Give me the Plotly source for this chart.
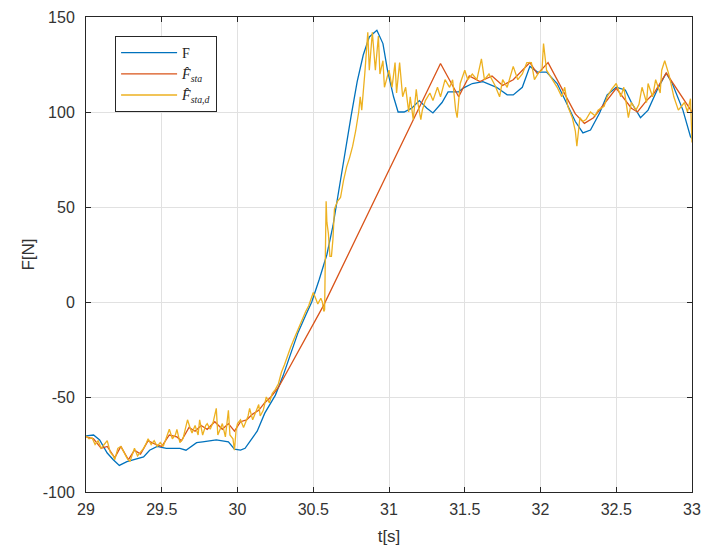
import plotly.graph_objects as go

# Measured force F
t_f = [29.00, 29.05, 29.09, 29.14, 29.18, 29.22, 29.27, 29.31, 29.38, 29.42, 29.47,
       29.53, 29.62, 29.66, 29.73, 29.77, 29.86, 29.94, 29.98, 30.02, 30.05, 30.08,
       30.13, 30.18, 30.25, 30.30, 30.35, 30.40, 30.45, 30.49, 30.54, 30.59, 30.63,
       30.67, 30.71, 30.75, 30.79, 30.83, 30.87, 30.92, 30.96, 30.99, 31.03, 31.06,
       31.10, 31.15, 31.20, 31.25, 31.29, 31.35, 31.39, 31.46, 31.49, 31.55, 31.62,
       31.71, 31.78, 31.82, 31.88, 31.93, 31.98, 32.04, 32.11, 32.17, 32.23, 32.28,
       32.33, 32.39, 32.44, 32.50, 32.56, 32.60, 32.66, 32.71, 32.77, 32.83, 32.87,
       32.94, 32.99, 33.00]
f_meas = [-70.5, -70, -72.6, -79.5, -83, -86, -84, -83, -81.5, -78, -76,
          -77, -77, -78, -74, -73.6, -72.6, -73.6, -77.5, -78, -77, -73.6,
          -68, -58.5, -49, -39, -27, -16, -7, 0, 12, 25, 40,
          60, 80, 98, 116, 130, 139.5, 143, 136, 122, 108, 100,
          100, 102, 106, 102, 99.5, 105, 110.6, 110.6, 112.6, 115, 116,
          113, 109, 109, 113, 124, 121, 121, 115, 105, 95, 89,
          90.5, 99.5, 109, 113, 111.6, 105, 97, 101, 111.6, 120.5, 115,
          101, 87, 86]

# Static estimate F_sta
t_sta = [29.00, 29.05, 29.10, 29.14, 29.19, 29.23, 29.28, 29.32, 29.36, 29.41, 29.46,
         29.50, 29.55, 29.60, 29.63, 29.68, 29.72, 29.76, 29.80, 29.85, 29.90, 29.94,
         29.98, 30.02, 30.06, 30.10, 30.14, 30.18, 30.22, 30.27, 30.57, 31.34, 31.46,
         31.53, 31.60, 31.68, 31.75, 31.82, 31.93, 31.98, 32.05, 32.23, 32.29, 32.35,
         32.50, 32.60, 32.64, 32.70, 32.75, 32.83, 33.00]
f_sta = [-71, -72, -77, -76, -82, -76, -83, -78, -80, -73, -75,
         -76, -70, -71, -73, -66, -68, -65, -67, -63, -67, -64,
         -68, -63, -62, -59, -57, -53, -50, -45, -1.5, 125.5, 108,
         119, 116, 119, 114, 117, 126, 120, 126, 99, 94, 97,
         112.5, 102, 100, 106, 110, 120.5, 100]

# Static-dynamic estimate F_sta,d
t_stad = [29.00, 29.02, 29.04, 29.06, 29.08, 29.10, 29.12, 29.14, 29.16, 29.18, 29.19,
          29.21, 29.23, 29.25, 29.27, 29.29, 29.31, 29.32, 29.34, 29.36, 29.38, 29.40,
          29.41, 29.43, 29.45, 29.47, 29.49, 29.51, 29.53, 29.55, 29.57, 29.59, 29.60,
          29.62, 29.64, 29.66, 29.67, 29.69, 29.70, 29.72, 29.74, 29.75, 29.77, 29.79,
          29.80, 29.82, 29.84, 29.86, 29.87, 29.89, 29.90, 29.92, 29.93, 29.94, 29.95,
          29.97, 29.98, 29.99, 30.00, 30.02, 30.04, 30.05, 30.07, 30.08, 30.10, 30.12,
          30.14, 30.15, 30.17, 30.19, 30.21, 30.23, 30.25, 30.27, 30.29, 30.31, 30.33,
          30.35, 30.37, 30.39, 30.41, 30.43, 30.45, 30.47, 30.49, 30.50, 30.52, 30.53,
          30.55, 30.56, 30.57, 30.575, 30.58, 30.585, 30.59, 30.60, 30.61, 30.62, 30.63,
          30.64, 30.66, 30.68, 30.70, 30.72, 30.74, 30.76, 30.78, 30.79, 30.80, 30.81,
          30.82, 30.84, 30.86, 30.87, 30.89, 30.91, 30.93, 30.94, 30.96, 30.97, 31.00,
          31.02, 31.04, 31.05, 31.07, 31.09, 31.11, 31.13, 31.14, 31.16, 31.18, 31.19,
          31.21, 31.22, 31.24, 31.27, 31.29, 31.32, 31.34, 31.37, 31.40, 31.42, 31.44,
          31.45, 31.47, 31.50, 31.52, 31.55, 31.58, 31.61, 31.63, 31.66, 31.70, 31.73,
          31.75, 31.78, 31.82, 31.85, 31.88, 31.91, 31.94, 31.96, 31.99, 32.01, 32.02,
          32.04, 32.08, 32.11, 32.14, 32.16, 32.18, 32.21, 32.23, 32.24, 32.26, 32.28,
          32.30, 32.33, 32.36, 32.38, 32.42, 32.44, 32.47, 32.50, 32.53, 32.55, 32.58,
          32.60, 32.63, 32.65, 32.67, 32.70, 32.71, 32.74, 32.76, 32.79, 32.80, 32.82,
          32.85, 32.88, 32.91, 32.95, 32.97, 32.99, 33.00]
f_stad = [-70.5, -72, -71.5, -75, -73, -77, -75, -73, -79, -81, -83,
          -77, -76, -79, -82, -84, -80, -77, -81, -79, -77, -74,
          -72, -75, -73, -76, -74, -76, -72, -67, -72, -70, -67,
          -74, -72, -66, -62, -67, -69, -65, -70, -62, -70, -65,
          -64, -67, -63, -56, -70, -66, -64, -71, -65, -57, -70,
          -72, -78, -68, -64, -62, -66, -64, -60, -56, -62, -58,
          -54, -60, -57, -50, -53, -48, -46, -43, -37, -33, -28,
          -24, -20, -16, -13, -9, -5, -2, 2, 5, 1, -1,
          2, 0, -5, -4, 25, 53, 42, 36, 24, 24, 33,
          49, 53, 55, 64, 71, 76, 82, 90, 95, 100, 108,
          101, 120, 142, 122, 142, 122, 140, 120, 127, 113, 122,
          113, 126, 110, 126, 108, 113, 100, 108, 96, 112, 105,
          96, 101, 106, 110, 106, 113, 108, 117, 113, 117, 101,
          97, 115, 122, 117, 120, 117, 128, 117, 120, 114, 108,
          117, 113, 124, 117, 120, 126, 126, 117, 121, 122, 136,
          122, 117, 113, 108, 113, 103, 97, 90, 82, 97, 95,
          96, 100, 98, 101, 103, 108, 112, 115, 108, 113, 97,
          105, 101, 104, 113, 105, 115, 108, 117, 110, 122, 127,
          119, 108, 101, 105, 100, 107, 84]

x_ticks = [29, 29.5, 30, 30.5, 31, 31.5, 32, 32.5, 33]
y_ticks = [-100, -50, 0, 50, 100, 150]

BLUE = "#0072BD"
ORANGE = "#D95319"
YELLOW = "#EDB120"
SANS = "Liberation Sans, Arial, sans-serif"

fig = go.Figure()
fig.add_trace(go.Scatter(x=t_f, y=f_meas, mode="lines", name="F",
                         line=dict(color=BLUE, width=1.3)))
fig.add_trace(go.Scatter(x=t_sta, y=f_sta, mode="lines",
                         name="<i>F̂</i><sub><i>sta</i></sub>",
                         line=dict(color=ORANGE, width=1.3)))
fig.add_trace(go.Scatter(x=t_stad, y=f_stad, mode="lines",
                         name="<i>F̂</i><sub><i>sta,d</i></sub>",
                         line=dict(color=YELLOW, width=1.3)))

axis_common = dict(
    showline=True, linecolor="#262626", linewidth=1, mirror="allticks",
    ticks="inside", ticklen=5, tickcolor="#262626",
    showgrid=True, gridcolor="#E1E1E1", gridwidth=1, zeroline=False,
    automargin=False,
    tickfont=dict(family=SANS, size=16, color="#333333"),
)

fig.update_xaxes(range=[29, 33], tickvals=x_ticks,
                 ticktext=[f"{v:g}" for v in x_ticks],
                 ticklabelstandoff=3,
                 title=dict(text="t[s]", standoff=12,
                            font=dict(family=SANS, size=17, color="#333333")),
                 **axis_common)
fig.update_yaxes(range=[-100, 150], tickvals=y_ticks,
                 ticktext=[f"{v:g}" for v in y_ticks],
                 ticklabelstandoff=7,
                 title=dict(text="F[N]", standoff=3,
                            font=dict(family=SANS, size=17, color="#333333")),
                 **axis_common)

fig.update_layout(
    width=704, height=550,
    margin=dict(l=86, r=12, t=17, b=58),
    paper_bgcolor="white", plot_bgcolor="white",
    showlegend=True,
    legend=dict(x=0.048, y=0.96, xanchor="left", yanchor="top",
                bgcolor="white", bordercolor="#262626", borderwidth=1,
                font=dict(family="Liberation Serif, Times New Roman, serif", size=14, color="#222222"),
                itemwidth=56, tracegroupgap=0),
)

fig.write_html("out.html")
